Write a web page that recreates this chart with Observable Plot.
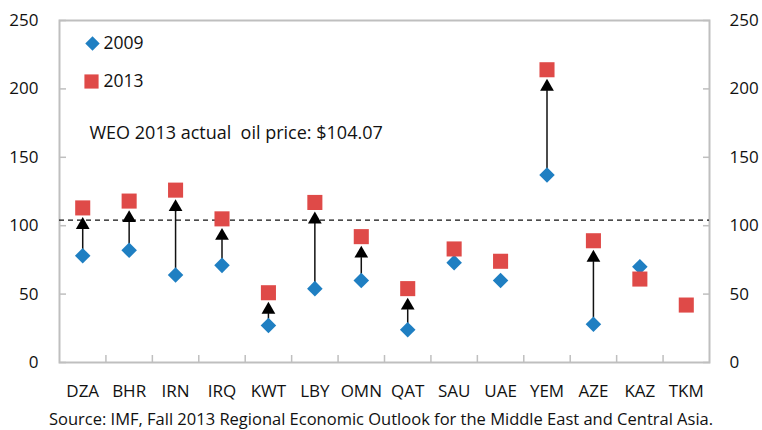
<!DOCTYPE html>
<html>
<head>
<meta charset="utf-8">
<script src="https://cdn.jsdelivr.net/npm/d3@7"></script>
<script src="https://cdn.jsdelivr.net/npm/@observablehq/plot@0.6"></script>
<style>
  body { margin: 0; background: #fff; font-family: "Open Sans", sans-serif; }
  #chart { width: 762px; height: 406px; }
  #chart svg { display: block; }
  #caption { width: 762px; text-align: center; font-size: 16.5px; color: #111; height: 24px; line-height: 24px; margin-top: 1px; }
</style>
</head>
<body>
<div id="chart"></div>
<div id="caption"></div>
<script>
const countries = ["DZA","BHR","IRN","IRQ","KWT","LBY","OMN","QAT","SAU","UAE","YEM","AZE","KAZ","TKM"];
const values2009 = [78, 82, 64, 71, 27, 54, 60, 24, 73, 60, 137, 28, 70, null];
const values2013 = [113, 118, 126, 105, 51, 117, 92, 54, 83, 74, 214, 89, 61, 42];
const hasArrow = [true, true, true, true, true, true, true, true, false, false, true, true, false, false];
const oilPrice = 104.07;
const yTicks = [0, 50, 100, 150, 200, 250];
const seriesNames = ["2009", "2013"];
const annotation = "WEO 2013 actual  oil price: $104.07";
const caption = "Source: IMF, Fall 2013 Regional Economic Outlook for the Middle East and Central Asia.";

const blue = "#1f7fc2";
const red = "#df4a48";
const frameColor = "#bfbfbf";

const rows = countries.map((c, i) => ({c, x: i + 0.5, v09: values2009[i], v13: values2013[i], arrow: hasArrow[i]}));
const arrows = rows.filter(d => d.arrow && d.v09 != null);
const boundaries = d3.range(1, countries.length);

const chart = Plot.plot({
  width: 762,
  height: 406,
  marginLeft: 59,
  marginRight: 53,
  marginTop: 20,
  marginBottom: 44,
  style: {fontFamily: "Open Sans, sans-serif", fontSize: "17px", color: "#111"},
  x: {domain: [0, countries.length]},
  y: {domain: [0, 250]},
  marks: [
    Plot.axisY(yTicks, {anchor: "left", tickSize: 0, tickPadding: 21, fontSize: 17, fill: "#111", label: null}),
    Plot.axisY(yTicks, {anchor: "right", tickSize: 0, tickPadding: 20, fontSize: 17, fill: "#111", label: null}),
    Plot.axisY(yTicks, {anchor: "left", tickSize: -7, stroke: frameColor, strokeWidth: 1.5, tickFormat: () => "", label: null}),
    Plot.axisY(yTicks, {anchor: "right", tickSize: -7, stroke: frameColor, strokeWidth: 1.5, tickFormat: () => "", label: null}),
    Plot.axisX(boundaries, {anchor: "bottom", tickSize: -7, stroke: frameColor, strokeWidth: 1.5, tickFormat: () => "", label: null}),
    Plot.axisX(rows.map(d => d.x), {anchor: "bottom", tickSize: 0, tickPadding: 22, fontSize: 17, fill: "#111", tickFormat: x => countries[Math.round(x - 0.5)], label: null}),
    Plot.frame({stroke: frameColor, strokeWidth: 2}),
    Plot.ruleY([oilPrice], {stroke: "#111", strokeWidth: 1.3, strokeDasharray: "5,4"}),
    Plot.arrow(arrows, {x: "x", y1: "v09", y2: "v13", headLength: 0, insetStart: 7, insetEnd: 21, stroke: "#111", strokeWidth: 1.5}),
    Plot.dot(arrows, {x: "x", y: "v13", symbol: "triangle", r: 5.1, fill: "#000", stroke: null, dy: 17}),
    Plot.dot(rows.filter(d => d.v09 != null), {x: "x", y: "v09", symbol: "diamond2", r: 7, fill: blue, stroke: null}),
    Plot.dot(rows, {x: "x", y: "v13", symbol: "square", r: 8.5, fill: red, stroke: null}),
    // legend
    Plot.dot([seriesNames[0]], {frameAnchor: "top-left", dx: 33, dy: 23, symbol: "diamond2", r: 6.5, fill: blue, stroke: null}),
    Plot.text([seriesNames[0]], {frameAnchor: "top-left", dx: 44, dy: 23, text: d => d, textAnchor: "start", lineAnchor: "middle", fontSize: 17.5, fill: "#111"}),
    Plot.dot([seriesNames[1]], {frameAnchor: "top-left", dx: 32, dy: 61, symbol: "square", r: 8, fill: red, stroke: null}),
    Plot.text([seriesNames[1]], {frameAnchor: "top-left", dx: 44, dy: 61, text: d => d, textAnchor: "start", lineAnchor: "middle", fontSize: 17.5, fill: "#111"}),
    Plot.text([annotation], {frameAnchor: "top-left", dx: 30, dy: 113, text: d => d, textAnchor: "start", lineAnchor: "middle", fontSize: 18, fill: "#111"})
  ]
});
document.getElementById("chart").appendChild(chart);
document.getElementById("caption").textContent = caption;
</script>
</body>
</html>
